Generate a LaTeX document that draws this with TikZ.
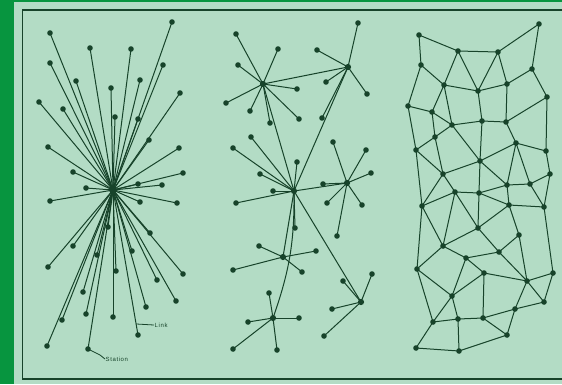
\documentclass[tikz,border=0pt]{standalone}
\usepackage{fontspec}
\setsansfont{Liberation Sans}
\definecolor{bg}{HTML}{B3DCC5}
\definecolor{ink}{HTML}{17432A}
\definecolor{bar}{HTML}{07953F}
\begin{document}
\begin{tikzpicture}[x=1pt,y=-1pt,
  dot/.style={circle,fill=ink,draw=none,inner sep=0pt,minimum size=5.6pt},
  hubdot/.style={circle,fill=ink,draw=none,inner sep=0pt,minimum size=6.2pt},
  link/.style={draw=ink,line width=1pt},
  lbl/.style={font=\sffamily\fontsize{6}{7}\selectfont\addfontfeature{LetterSpace=10},text=ink,inner sep=0.5pt}]
\useasboundingbox (0,0) rectangle (562,384);
\fill[bg] (0,0) rectangle (562,384);
\fill[bar] (0,0) rectangle (14,384);
\fill[bar] (0,0) rectangle (562,1.5);
\draw[ink,line width=1.6pt] (565,9.8) -- (22.5,9.8) -- (22.5,379) -- (565,379);

% ---------- centralized ----------
\node[hubdot,minimum size=8pt] (c0) at (113,190) {};
\foreach \n/\x/\y in {1/50/33,2/172/22,3/90/48,4/131/49,5/50/63,6/163/65,7/76/81,8/140/80,
  9/111/88,10/180/93,11/39/102,12/63/109,13/115/117,14/138/119,15/149/140,16/48/147,
  17/179/148,18/73/172,19/183/173,20/86/188,21/138/184,22/162/185,23/50/201,24/140/202,
  25/177/203,26/108/227,27/73/246,28/150/233,29/97/255,30/132/251,31/48/267,32/116/271,
  33/183/274,34/157/280,35/83/292,36/176/301,37/146/307,38/86/314,39/113/317,40/62/320,
  41/138/335,42/47/346,43/88/349}
  {\node[dot] (c\n) at (\x,\y) {};}
\foreach \n in {1,...,40,42,43} {\draw[link] (c0.center) -- (c\n.center);}
\draw[link] (c0.center) -- coordinate[pos=0.924] (lk) (c41.center);
\node[lbl,anchor=west] (linklbl) at (154,325) {Link};
\node[lbl,anchor=west] (stlbl) at (105,359) {Station};
\draw[link,line width=0.8pt] (lk) -- (linklbl.west);
\draw[link,line width=0.8pt] (c43.center) -- (100,355) -- (stlbl.west);

% ---------- decentralized ----------
\foreach \h/\x/\y in {A/263/84,B/348/67,C/294/191,D/347/183,E/283/257,F/273/318,G/361/302}
  {\node[hubdot] (\h) at (\x,\y) {};}
\foreach \h/\n/\x/\y in {A/1/236/34,A/2/278/49,A/3/238/65,A/4/226/103,A/5/250/111,A/6/297/89,A/7/299/119,A/8/270/123,
  B/1/358/23,B/2/317/50,B/3/326/82,B/4/367/94,B/5/322/118,
  C/1/251/137,C/2/233/148,C/3/297/162,C/4/260/174,C/5/273/191,C/6/236/203,C/7/295/228,
  D/1/333/142,D/2/366/150,D/3/371/173,D/4/323/184,D/5/327/203,D/6/362/205,D/7/337/236,
  E/1/259/246,E/2/316/251,E/3/233/270,E/4/302/272,
  F/1/269/293,F/2/248/322,F/3/299/318,F/4/233/349,F/5/277/350,
  G/1/372/274,G/2/343/281,G/3/332/309,G/4/324/336}
  {\node[dot] (\h\n) at (\x,\y) {}; \draw[link] (\h.center) -- (\h\n.center);}
\foreach \a/\b in {A/B,A/C,B/C,C/D,C/E,C/G}
  {\draw[link] (\a.center) -- (\b.center);}
\draw[link] (F.center) to[bend right=10] (C.center);

% ---------- distributed ----------
\foreach \n/\x/\y in {1/419/35,2/539/24,3/458/51,4/498/52,5/421/65,6/532/69,7/444/85,8/478/91,
  9/507/84,10/547/97,11/408/106,12/432/112,13/452/125,14/482/121,15/506/122,16/435/137,
  17/516/143,18/416/150,19/546/151,20/480/161,21/443/174,22/550/174,23/507/185,24/530/184,
  25/455/192,26/479/193,27/422/206,28/509/205,29/544/207,30/478/228,31/519/235,32/443/246,
  33/466/258,34/499/252,35/417/269,36/484/273,37/553/273,38/527/281,39/452/296,40/544/302,
  41/515/309,42/433/322,43/458/319,44/483/318,45/507/335,46/416/348,47/459/351}
  {\node[dot] (n\n) at (\x,\y) {};}
\foreach \a/\b in {1/3,3/4,4/2,1/5,2/6,5/7,3/7,3/8,4/8,4/9,7/8,8/9,9/6,6/10,5/11,11/12,7/12,
  7/13,12/13,8/14,13/14,14/15,9/15,15/10,11/18,12/16,13/16,16/18,13/20,14/20,15/17,10/19,
  17/19,20/17,16/21,18/21,20/21,17/23,17/24,19/22,22/24,23/24,20/23,20/26,21/25,25/26,
  26/23,18/27,21/27,25/27,25/30,26/30,23/28,24/29,28/29,26/28,22/29,28/30,28/31,25/32,
  27/32,30/32,32/33,30/34,31/34,33/34,29/37,31/38,34/38,36/38,38/37,38/40,37/40,27/35,
  32/35,33/36,33/39,35/39,36/39,36/44,38/41,40/41,35/42,39/42,39/43,42/43,43/44,44/41,
  44/45,41/45,42/46,43/47,46/47,47/45}
  {\draw[link] (n\a.center) -- (n\b.center);}
\end{tikzpicture}
\end{document}
